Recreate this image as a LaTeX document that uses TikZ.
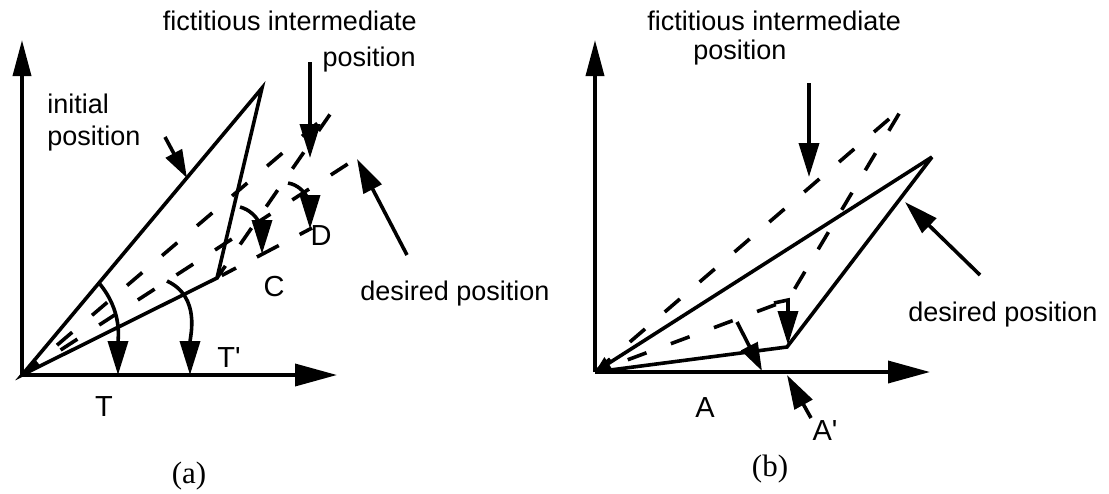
\documentclass[tikz,border=0pt]{standalone}
\usepackage{fontspec}
\setmainfont{Liberation Sans}
\newfontfamily\primefont{Liberation Sans}[Ligatures=ResetAll]
\newfontfamily\captionfont{Liberation Serif}
\usetikzlibrary{arrows.meta,calc}
\begin{document}
\begin{tikzpicture}[x=0.5pt,y=-0.5pt,
  ln/.style={line width=1.8pt},
  dsh/.style={line width=1.8pt,dash pattern=on 10pt off 13pt},
  axisline/.style={line width=1.8pt,-{Triangle[length=21pt,width=11pt]}},
  yaxisline/.style={line width=1.8pt,-{Triangle[length=18pt,width=9pt]}},
  bigarrow/.style={line width=1.8pt,-{Triangle[length=17pt,width=10pt]}},
  midarrow/.style={line width=1.8pt,-{Triangle[length=14pt,width=9pt]}},
  txt/.style={font=\fontsize{13.5}{16}\selectfont, inner sep=0pt},
  lbl/.style={font=\fontsize{14.5}{16}\selectfont, inner sep=0pt},
  capt/.style={font=\captionfont\fontsize{15.5}{18}\selectfont, inner sep=0pt}]
\useasboundingbox (0,0) rectangle (1109,493);

% ---------------- (a) ----------------
\coordinate (O) at (22,375);
\coordinate (Ytop) at (22,40);
\coordinate (Xend) at (337,375);
\coordinate (P) at (262,88);
\coordinate (Q) at (217,278);
\coordinate (P1) at (333,110);
\coordinate (P2) at (357,158);
\coordinate (E) at (312,228);

\draw[yaxisline] (O) -- (Ytop);
\draw[axisline] (O) -- (Xend);
\draw[ln, line join=miter] (O) -- (P) -- (Q) -- cycle;
\draw[dsh] (O) -- (P1) -- (Q);
\draw[dsh] (O) -- (P2);
\draw[ln] ($(Q)!0.05!(E)$) -- ($(Q)!0.2!(E)$);
\draw[ln] ($(Q)!0.42!(E)$) -- ($(Q)!0.65!(E)$);
\draw[ln] ($(Q)!0.87!(E)$) -- (E);

% angle arcs
\coordinate (Ts) at (99,283);
\coordinate (Tt) at (118,375);
\coordinate (Tps) at (167,281);
\coordinate (Tpt) at (190,375);
\coordinate (Cs) at (240,207);
\coordinate (Ct) at (262,254);
\coordinate (Ds) at (288,183);
\coordinate (Dt) at (310,229);
\draw[bigarrow] (Ts) to[out=-50,in=90] (Tt);
\draw[bigarrow] (Tps) to[out=-25,in=90] (Tpt);
\draw[bigarrow] (Cs) to[out=-15,in=90] (Ct);
\draw[bigarrow] (Ds) to[out=-10,in=90] (Dt);

% pointer arrows
\coordinate (ia) at (165,137);
\coordinate (ib) at (187,178);
\coordinate (fa) at (310,62);
\coordinate (fb) at (310,158);
\coordinate (da) at (407,255);
\coordinate (db) at (357,159);
\draw[midarrow] (ia) -- (ib);
\draw[bigarrow] (fa) -- (fb);
\draw[bigarrow] (da) -- (db);

\node[txt,anchor=base west] (init1) at (47,113) {initial};
\node[txt,anchor=base west] (init2) at (47,145) {position};
\node[txt,anchor=base east] (fic1) at (417,30) {fictitious intermediate};
\node[txt,anchor=base east] (fic2) at (416,66) {position};
\node[txt,anchor=base west] (des1) at (360,300) {desired position};
\node[lbl] (labC) at (274,287) {C};
\node[lbl] (labD) at (321,236) {D};
\node[lbl] (labT) at (104,407) {T};
\node[lbl] (labTp) at (229,358) {T{\primefont'}};
\node[capt] (la) at (189,476) {(a)};

% ---------------- (b) ----------------
\coordinate (O2) at (595,372);
\coordinate (Y2) at (595,40);
\coordinate (X2) at (930,372);
\coordinate (R) at (932,157);
\coordinate (S) at (787,347);
\coordinate (U) at (903,107);
\coordinate (V) at (788,300);
\coordinate (Vh) at (774,303);
\coordinate (Sb) at (788,345);

\draw[yaxisline] (O2) -- (Y2);
\draw[axisline] (O2) -- (X2);
\draw[ln, line join=miter] (O2) -- (S) -- (R);
\draw[ln,-{Triangle[length=8pt,width=7pt]}] (R) -- (O2);
\draw[dsh] (O2) -- (U) -- (V) -- cycle;
\draw[bigarrow] (Vh) -- (V) -- (Sb);

\coordinate (Aa) at (737,322);
\coordinate (Ab) at (762,371);
\coordinate (Apa) at (811,418);
\coordinate (Apb) at (787,375);
\coordinate (dra) at (980,275);
\coordinate (drb) at (905,202);
\coordinate (fra) at (809,83);
\coordinate (frb) at (809,177);
\draw[midarrow] (Aa) -- (Ab);
\draw[bigarrow] (Apa) -- (Apb);
\draw[bigarrow] (dra) -- (drb);
\draw[bigarrow] (fra) -- (frb);

\node[txt,anchor=base west] (fic3) at (647,30) {fictitious intermediate};
\node[txt,anchor=base west] (fic4) at (693,59) {position};
\node[txt,anchor=base west] (des2) at (908,321) {desired position};
\node[lbl] (labA) at (705,408) {A};
\node[lbl] (labAp) at (825,431) {A{\primefont'}};
\node[capt] (lb) at (770,469) {(b)};
\end{tikzpicture}
\end{document}
